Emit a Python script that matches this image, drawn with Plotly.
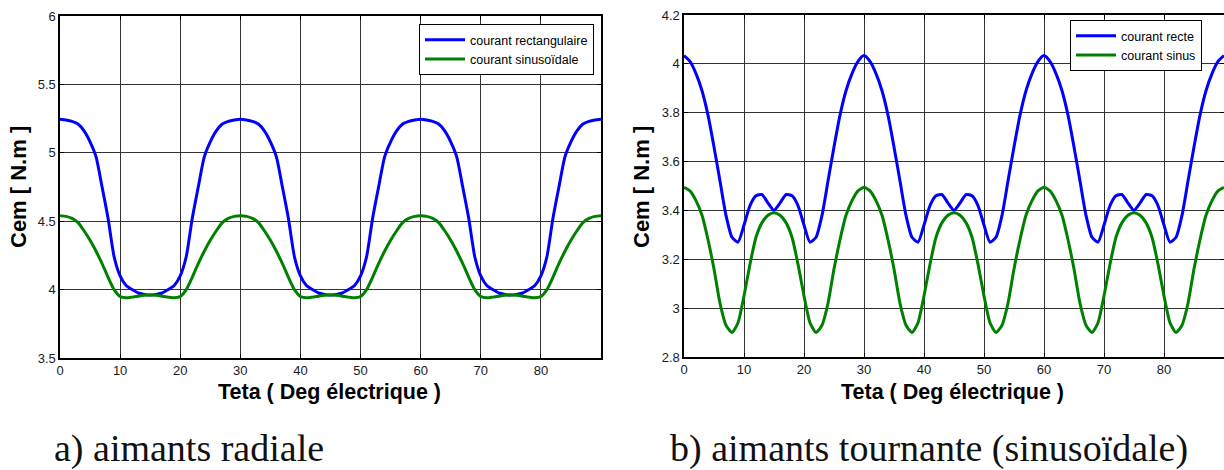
import plotly.graph_objects as go

W, H = 1224, 470

theta = list(range(0, 91))

# (a) aimants radiale
cem_a_rect = [
    5.245, 5.24, 5.23, 5.21, 5.16, 5.08, 4.97, 4.75, 4.52, 4.24, 4.10, 4.03, 4.00, 3.975, 3.965, 3.96,
    3.965, 3.975, 4.00, 4.03, 4.10, 4.24, 4.52, 4.75, 4.97, 5.08, 5.16, 5.21, 5.23, 5.24,
    5.245, 5.24, 5.23, 5.21, 5.16, 5.08, 4.97, 4.75, 4.52, 4.24, 4.10, 4.03, 4.00, 3.975, 3.965, 3.96,
    3.965, 3.975, 4.00, 4.03, 4.10, 4.24, 4.52, 4.75, 4.97, 5.08, 5.16, 5.21, 5.23, 5.24,
    5.245, 5.24, 5.23, 5.21, 5.16, 5.08, 4.97, 4.75, 4.52, 4.24, 4.10, 4.03, 4.00, 3.975, 3.965, 3.96,
    3.965, 3.975, 4.00, 4.03, 4.10, 4.24, 4.52, 4.75, 4.97, 5.08, 5.16, 5.21, 5.23, 5.24,
    5.245,
]
cem_a_sin = [
    4.54, 4.535, 4.52, 4.49, 4.43, 4.36, 4.28, 4.19, 4.09, 4.00, 3.95, 3.94, 3.945, 3.952, 3.958, 3.96,
    3.958, 3.952, 3.945, 3.94, 3.95, 4.00, 4.09, 4.19, 4.28, 4.36, 4.43, 4.49, 4.52, 4.535,
    4.54, 4.535, 4.52, 4.49, 4.43, 4.36, 4.28, 4.19, 4.09, 4.00, 3.95, 3.94, 3.945, 3.952, 3.958, 3.96,
    3.958, 3.952, 3.945, 3.94, 3.95, 4.00, 4.09, 4.19, 4.28, 4.36, 4.43, 4.49, 4.52, 4.535,
    4.54, 4.535, 4.52, 4.49, 4.43, 4.36, 4.28, 4.19, 4.09, 4.00, 3.95, 3.94, 3.945, 3.952, 3.958, 3.96,
    3.958, 3.952, 3.945, 3.94, 3.95, 4.00, 4.09, 4.19, 4.28, 4.36, 4.43, 4.49, 4.52, 4.535,
    4.54,
]

# (b) aimants tournante (sinusoidale)
cem_b_rect = [
    4.034, 4.01, 3.96, 3.89, 3.79, 3.66, 3.52, 3.38, 3.29, 3.27, 3.34, 3.42, 3.46, 3.465, 3.43, 3.40,
    3.43, 3.465, 3.46, 3.42, 3.34, 3.27, 3.29, 3.38, 3.52, 3.66, 3.79, 3.89, 3.96, 4.01,
    4.034, 4.01, 3.96, 3.89, 3.79, 3.66, 3.52, 3.38, 3.29, 3.27, 3.34, 3.42, 3.46, 3.465, 3.43, 3.40,
    3.43, 3.465, 3.46, 3.42, 3.34, 3.27, 3.29, 3.38, 3.52, 3.66, 3.79, 3.89, 3.96, 4.01,
    4.034, 4.01, 3.96, 3.89, 3.79, 3.66, 3.52, 3.38, 3.29, 3.27, 3.34, 3.42, 3.46, 3.465, 3.43, 3.40,
    3.43, 3.465, 3.46, 3.42, 3.34, 3.27, 3.29, 3.38, 3.52, 3.66, 3.79, 3.89, 3.96, 4.01,
    4.034,
]
cem_b_sin = [
    3.495, 3.48, 3.44, 3.38, 3.28, 3.16, 3.02, 2.93, 2.90, 2.94, 3.05, 3.18, 3.29, 3.35, 3.38, 3.39,
    3.38, 3.35, 3.29, 3.18, 3.05, 2.94, 2.90, 2.93, 3.02, 3.16, 3.28, 3.38, 3.44, 3.48,
    3.495, 3.48, 3.44, 3.38, 3.28, 3.16, 3.02, 2.93, 2.90, 2.94, 3.05, 3.18, 3.29, 3.35, 3.38, 3.39,
    3.38, 3.35, 3.29, 3.18, 3.05, 2.94, 2.90, 2.93, 3.02, 3.16, 3.28, 3.38, 3.44, 3.48,
    3.495, 3.48, 3.44, 3.38, 3.28, 3.16, 3.02, 2.93, 2.90, 2.94, 3.05, 3.18, 3.29, 3.35, 3.38, 3.39,
    3.38, 3.35, 3.29, 3.18, 3.05, 2.94, 2.90, 2.93, 3.02, 3.16, 3.28, 3.38, 3.44, 3.48,
    3.495,
]

x_ticks = [0, 10, 20, 30, 40, 50, 60, 70, 80]
y_ticks_a = [3.5, 4, 4.5, 5, 5.5, 6]
y_ticks_b = [2.8, 3, 3.2, 3.4, 3.6, 3.8, 4, 4.2]

names_a = ["courant rectangulaire", "courant sinusoïdale"]
names_b = ["courant recte", "courant sinus"]
x_title = "Teta ( Deg électrique )"
y_title = "Cem [ N.m ]"
captions = ["a) aimants radiale", "b) aimants tournante (sinusoïdale)"]

BLUE = "#0000ff"
GREEN = "#008000"

fig = go.Figure()
fig.add_trace(go.Scatter(x=theta, y=cem_a_rect, name=names_a[0], mode="lines",
                         line=dict(color=BLUE, width=3, shape="spline", smoothing=0.6),
                         xaxis="x", yaxis="y", legend="legend"))
fig.add_trace(go.Scatter(x=theta, y=cem_a_sin, name=names_a[1], mode="lines",
                         line=dict(color=GREEN, width=3, shape="spline", smoothing=0.6),
                         xaxis="x", yaxis="y", legend="legend"))
fig.add_trace(go.Scatter(x=theta, y=cem_b_rect, name=names_b[0], mode="lines",
                         line=dict(color=BLUE, width=3, shape="spline", smoothing=0.6),
                         xaxis="x2", yaxis="y2", legend="legend2"))
fig.add_trace(go.Scatter(x=theta, y=cem_b_sin, name=names_b[1], mode="lines",
                         line=dict(color=GREEN, width=3, shape="spline", smoothing=0.6),
                         xaxis="x2", yaxis="y2", legend="legend2"))

def px_x(p):
    return p / W

def px_y(p):
    return 1 - p / H

SANS = "Arial, Liberation Sans, sans-serif"
tick_font = dict(family=SANS, size=13, color="#1a1a1a")
title_font = dict(family=SANS, size=21.5, color="black")

common_x = dict(range=[0, 90], tickvals=x_ticks, ticks="inside", ticklen=4, tickcolor="black",
                showline=True, linecolor="black", linewidth=1.6, mirror="ticks",
                showgrid=True, gridcolor="#333333", gridwidth=1, zeroline=False,
                tickfont=tick_font, fixedrange=True, automargin=False)
common_y = dict(ticks="inside", ticklen=4, tickcolor="black",
                showline=True, linecolor="black", linewidth=1.6, mirror="ticks",
                showgrid=True, gridcolor="#333333", gridwidth=1, zeroline=False,
                tickfont=tick_font, fixedrange=True, automargin=False)

legend_font = dict(family=SANS, size=12.5, color="black")

fig.update_layout(
    width=W, height=H,
    margin=dict(l=0, r=0, t=0, b=0, pad=0),
    paper_bgcolor="white", plot_bgcolor="white",
    xaxis=dict(domain=[px_x(60), px_x(601)], anchor="y", **common_x),
    yaxis=dict(domain=[px_y(358), px_y(16)], anchor="x", range=[3.5, 6], tickvals=y_ticks_a, **common_y),
    xaxis2=dict(domain=[px_x(684), px_x(1224)], anchor="y2", **common_x),
    yaxis2=dict(domain=[px_y(357), px_y(15)], anchor="x2", range=[2.8, 4.2], tickvals=y_ticks_b, **common_y),
    legend=dict(x=px_x(594), y=px_y(24), xanchor="right", yanchor="top",
                bgcolor="white", bordercolor="black", borderwidth=1,
                font=legend_font, tracegroupgap=0, itemwidth=40),
    legend2=dict(x=px_x(1202), y=px_y(20), xanchor="right", yanchor="top",
                 bgcolor="white", bordercolor="black", borderwidth=1,
                 font=legend_font, tracegroupgap=0, itemwidth=40),
    showlegend=True,
)

annotations = [
    dict(text="<b>%s</b>" % x_title, x=px_x(329), y=px_y(392), xref="paper", yref="paper",
         showarrow=False, font=title_font, xanchor="center", yanchor="middle"),
    dict(text="<b>%s</b>" % x_title, x=px_x(952), y=px_y(392), xref="paper", yref="paper",
         showarrow=False, font=title_font, xanchor="center", yanchor="middle"),
    dict(text="<b>%s</b>" % y_title, x=px_x(18), y=px_y(187), xref="paper", yref="paper",
         showarrow=False, font=dict(title_font, size=22), textangle=-90, xanchor="center", yanchor="middle"),
    dict(text="<b>%s</b>" % y_title, x=px_x(641), y=px_y(187), xref="paper", yref="paper",
         showarrow=False, font=dict(title_font, size=22), textangle=-90, xanchor="center", yanchor="middle"),
    dict(text=captions[0], x=px_x(52), y=px_y(448), xref="paper", yref="paper",
         showarrow=False, font=dict(family="Liberation Serif, serif", size=38, color="#111"),
         xanchor="left", yanchor="middle"),
    dict(text=captions[1], x=px_x(668), y=px_y(448), xref="paper", yref="paper",
         showarrow=False, font=dict(family="Liberation Serif, serif", size=38, color="#111"),
         xanchor="left", yanchor="middle"),
]
fig.update_layout(annotations=annotations)

fig.write_html(
    "out.html",
    config={"displayModeBar": False, "staticPlot": True},
    post_script="document.body.style.margin='0';document.body.style.overflow='hidden';",
)
